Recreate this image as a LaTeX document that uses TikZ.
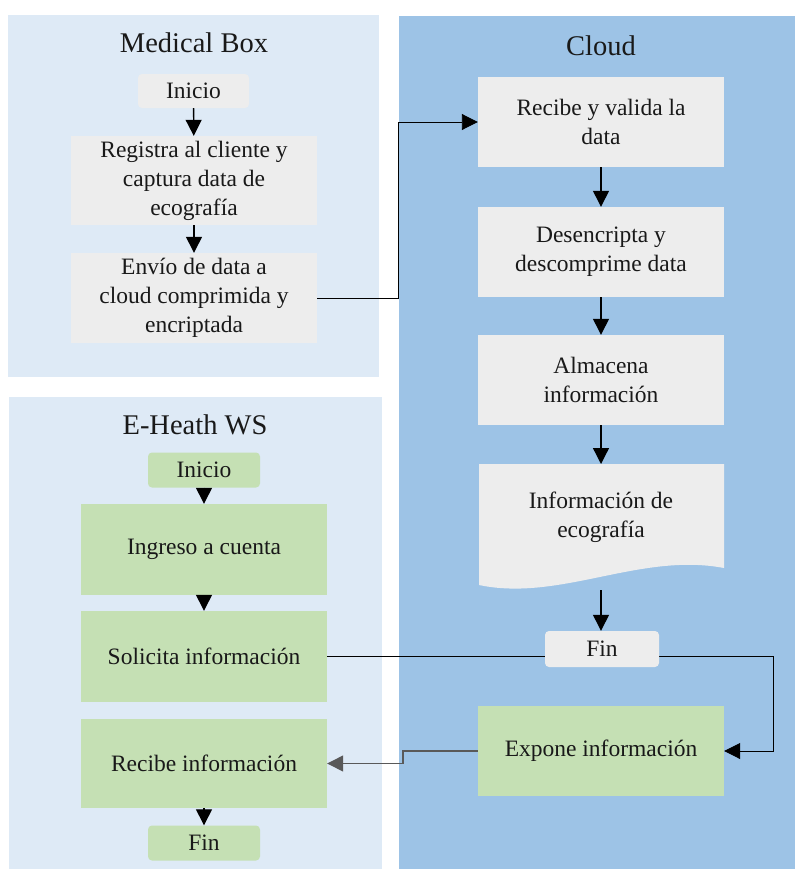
\documentclass[tikz,border=0pt]{standalone}
\usepackage{fontspec}
\setmainfont{Liberation Serif}
\usetikzlibrary{arrows.meta}
\definecolor{panellight}{HTML}{DEEAF6}
\definecolor{panelcloud}{HTML}{9DC3E6}
\definecolor{boxgray}{HTML}{EDEDED}
\definecolor{boxgreen}{HTML}{C5E0B4}
\begin{document}
\begin{tikzpicture}[x=1bp,y=-1bp,
  txt/.style={font=\fontsize{23.5bp}{29bp}\selectfont, align=center, text=black!90},
  titletxt/.style={font=\fontsize{28.5bp}{34bp}\selectfont, text=black!90},
  procbox/.style={txt, inner sep=0pt, minimum width=246bp, minimum height=90bp},
  graybox/.style={procbox, fill=boxgray},
  greenbox/.style={procbox, fill=boxgreen},
  termbox/.style={txt, inner sep=0pt, minimum width=112bp, minimum height=35bp, rounded corners=4bp},
  flow/.style={-{Triangle[width=16bp,length=16bp]}, line width=1.3bp, draw=black},
  thinflow/.style={flow, line width=0.9bp},
  flowgray/.style={flow, draw=black!65}
]
\useasboundingbox (0,0) rectangle (795,869);
\fill[white] (0,0) rectangle (795,869);
% panels
\fill[panellight] (8,15) rectangle (379,377);
\fill[panellight] (9,397) rectangle (382,869);
\fill[panelcloud] (399,16) rectangle (795,869);
% titles
\node[titletxt] (tmb) at (194,43) {Medical Box};
\node[titletxt] (tcl) at (601,46) {Cloud};
\node[titletxt] (teh) at (195,425) {E-Heath WS};
% Medical Box
\node[termbox, fill=boxgray, minimum width=111bp, minimum height=34bp] (mbini) at (193.5,91) {Inicio};
\node[graybox, minimum height=89bp] (mbreg) at (194,180.5) {Registra al cliente y\\captura data de\\ecografía};
\node[graybox] (mbenv) at (194,298) {Envío de data a\\cloud comprimida y\\encriptada};
% Cloud
\node[graybox] (crec) at (601,122) {Recibe y valida la\\data};
\node[graybox] (cdes) at (601,252) {Desencripta y\\descomprime data};
\node[graybox] (calm) at (601,380) {Almacena\\información};
\fill[boxgray] (479,464) -- (724,464) -- (724,568) .. controls (640,552) and (560,602) .. (479,585) -- cycle;
\node[txt] (cinf) at (601,517) {Información de\\ecografía};
\coordinate (cinfb) at (601,590);
\node[greenbox] (cexp) at (601,751) {Expone información};
% E-Heath WS
\node[termbox, fill=boxgreen] (eini) at (204,470) {Inicio};
\node[greenbox, minimum height=91bp] (eing) at (204,549.5) {Ingreso a cuenta};
\node[greenbox, minimum height=91bp] (esol) at (204,656.5) {Solicita información};
\node[greenbox, minimum height=89bp] (erec) at (204,763.5) {Recibe información};
\node[termbox, fill=boxgreen] (efin) at (204,843) {Fin};
% junction coordinates
\coordinate (j1) at (398,0);
\coordinate (j2) at (773,0);
\coordinate (j3) at (403,0);
% connectors
\draw[flow] (mbini) -- (mbreg);
\draw[flow] (mbreg) -- (mbenv);
\draw[thinflow] (mbenv.east) -- (mbenv.east -| j1) |- (crec.west);
\draw[flow] (crec) -- (cdes);
\draw[flow] (cdes) -- (calm);
\draw[flow] (calm.south) -- (601,464);
\draw[flow] (eini) -- (eing);
\draw[flow] (eing) -- (esol);
\draw[flow] (erec) -- (efin);
\draw[thinflow] (esol.east) -- (esol.east -| j2) |- (cexp.east);
\draw[flowgray] (cexp.west) -- (cexp.west -| j3) -- (erec.east -| j3) -- (erec.east);
% Cloud Fin drawn over the line
\node[termbox, fill=boxgray, minimum width=114bp, minimum height=36bp] (cfin) at (602,649) {Fin};
\draw[flow] (cinfb) -- (cfin.north -| cinfb);
\end{tikzpicture}
\end{document}
